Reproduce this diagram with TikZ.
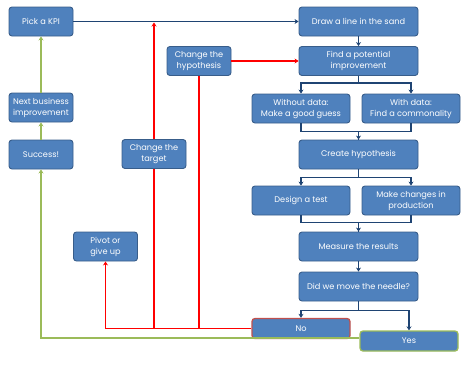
\documentclass[tikz,border=0pt]{standalone}
\usepackage{fontspec}
\setmainfont{Poppins}
\usepackage{tikz}
\usetikzlibrary{arrows.meta, positioning, calc, backgrounds}
\definecolor{boxblue}{RGB}{79,129,189}
\definecolor{boxedge}{RGB}{56,93,138}
\definecolor{flowblue}{RGB}{31,68,115}
\definecolor{flowred}{RGB}{255,0,0}
\definecolor{flowgreen}{RGB}{155,187,89}
\definecolor{noedge}{RGB}{192,80,77}
\tikzset{
  box/.style={rectangle, draw=boxedge, fill=boxblue, text=white,
    align=center, minimum height=29pt, inner sep=1pt,
    font=\fontsize{8.2}{11}\selectfont, rounded corners=3pt, line width=0.9pt},
  smallbox/.style={box, minimum width=64pt},
  midbox/.style={box, minimum width=98pt},
  widebox/.style={box, minimum width=119pt},
  nobox/.style={midbox, minimum height=20pt, draw=noedge, line width=1.3pt},
  yesbox/.style={midbox, minimum height=20pt, draw=flowgreen, line width=1.3pt},
  arrow/.style={-{Stealth[length=4pt,width=5pt]}, line width=1.2pt, color=flowblue},
  line/.style={line width=1.2pt, color=flowblue},
  redarrow/.style={-{Stealth[length=4pt,width=5pt]}, line width=1.2pt, color=flowred},
  redline/.style={line width=1.2pt, color=flowred},
  greenarrow/.style={-{Stealth[length=4pt,width=5pt]}, line width=1.2pt, color=flowgreen}
}
\begin{document}
\begin{tikzpicture}[x=1pt, y=-1pt]
  \useasboundingbox (0,0) rectangle (470,365);

  % Corners of the feedback lines
  \coordinate (redcorner) at (105.5,328.5);
  \coordinate (targetfoot) at (154,328.5);
  \coordinate (hypofoot) at (199,328.5);
  \coordinate (kpiline) at (154,22.5);

  % Left column
  \node[smallbox] (kpi) at (41,21.5) {Pick a KPI};
  \node[smallbox] (next) at (41,107.5) {Next business\\improvement};
  \node[smallbox] (success) at (41,154.5) {Success!};
  \node[smallbox] (pivot) at (105.5,246.5) {Pivot or\\give up};
  \node[smallbox] (target) at (154,154) {Change the\\target};
  \node[smallbox] (hypo) at (199,61) {Change the\\hypothesis};

  % Main flow
  \node[widebox] (sand) at (358.5,21.5) {Draw a line in the sand};
  \node[widebox] (find) at (358.5,61) {Find a potential\\improvement};
  \node[midbox] (guess) at (301,108.5) {Without data:\\Make a good guess};
  \node[midbox] (common) at (411,108.5) {With data:\\Find a commonality};
  \node[widebox] (create) at (358.5,154.5) {Create hypothesis};
  \node[midbox] (design) at (301,200.5) {Design a test};
  \node[midbox] (changes) at (411,200.5) {Make changes in\\production};
  \node[widebox] (measure) at (358.5,246.5) {Measure the results};
  \node[widebox] (needle) at (358.5,286.5) {Did we move the needle?};
  \node[nobox] (no) at (301,328.5) {No};
  \node[yesbox] (yes) at (409,341) {Yes};

  % Blue connectors
  \draw[arrow] (kpi) -- (sand);
  \draw[arrow] (sand) -- (find);
  \draw[arrow] (find.south) -- ++(0,7) -| (guess.north);
  \draw[arrow] (find.south) -- ++(0,7) -| (common.north);
  \draw[line] (guess.south) -- ++(0,8) -| (create.north);
  \draw[arrow] (common.south) -- ++(0,8) -| (create.north);
  \draw[arrow] (create.south) -- ++(0,8) -| (design.north);
  \draw[arrow] (create.south) -- ++(0,8) -| (changes.north);
  \draw[line] (design.south) -- ++(0,7) -| (measure.north);
  \draw[arrow] (changes.south) -- ++(0,7) -| (measure.north);
  \draw[arrow] (measure) -- (needle);
  \draw[arrow] (needle.south) -- ++(0,9) -| (no.north);
  \draw[arrow] (needle.south) -- ++(0,9) -| (yes.north);

  % Red connectors
  \draw[redarrow] (no.west) -- (redcorner) -- (pivot.south);
  \begin{scope}[on background layer]
    \draw[redarrow] (targetfoot) -- (kpiline);
  \end{scope}
  \draw[redline] (hypofoot) -- (hypo.south);
  \draw[redarrow] (hypo.east) -- (find.west);

  % Green connectors
  \draw[greenarrow] ([yshift=3pt]yes.west) -| (success.south);
  \draw[greenarrow] (success) -- (next);
  \draw[greenarrow] (next) -- (kpi);
\end{tikzpicture}
\end{document}
